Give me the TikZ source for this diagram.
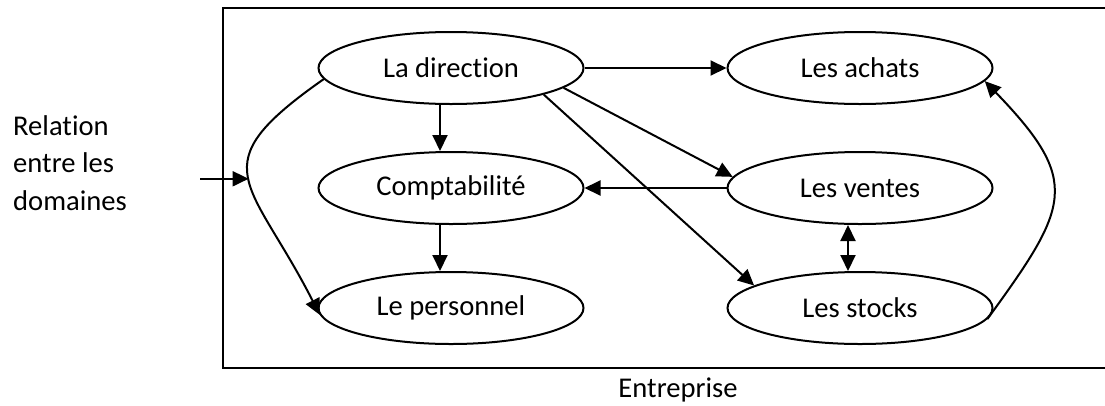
\documentclass[tikz,border=0pt]{standalone}
\usepackage{fontspec}
\setmainfont{Carlito}[Ligatures=NoCommon]
\usetikzlibrary{arrows.meta,shapes.geometric}
\begin{document}
\begin{tikzpicture}[x=1pt,y=-1pt,
  txt/.style={font=\fontsize{28.6}{37.5}\selectfont, inner sep=0pt},
  field/.style={txt, draw, ellipse, line width=2pt, minimum width=265pt, minimum height=72pt},
  tip/.tip={Triangle[length=16pt,width=15pt]},
  link/.style={line width=2pt, -tip},
  both/.style={line width=2pt, tip-tip}]
  \useasboundingbox (0,0) rectangle (1105,405);

  % enterprise frame (runs past the right edge)
  \node (frame) [draw, line width=2pt, minimum width=912pt, minimum height=360pt, inner sep=0pt] at (679,188) {};
  \node (ent) [txt, anchor=base] at (678,397) {Entreprise};

  % domains
  \node (dir)    [field] at (451,68)  {La direction};
  \node (compta) [field] at (451,188) {Comptabilité};
  \node (pers)   [field] at (451,308) {Le personnel};
  \node (achats) [field] at (860,68)  {Les achats};
  \node (ventes) [field] at (860,188) {Les ventes};
  \node (stocks) [field] at (860,308) {Les stocks};

  % outside label
  \node (rel) [txt, anchor=base west, align=left] at (13,210) {Relation\\entre les\\domaines};

  % links between domains
  \draw[link] (dir.east) -- (achats.west);
  \draw[link] ([xshift=-11pt]dir.south) -- ([xshift=-11pt]compta.north);
  \draw[link] ([xshift=-11pt]compta.south) -- ([xshift=-11pt]pers.north);
  \draw[link] (ventes.west) -- (compta.east);
  \draw[link] (dir.-10) -- (ventes.175);
  \draw[link] (dir.-16) -- (stocks.168);
  \draw[both] ([xshift=-12pt]ventes.south) -- ([xshift=-12pt]stocks.north);
  \draw[link] (stocks.-5) to[out=54, in=-46, looseness=1.5] (achats.-6);
  \draw[link] (dir.185) to[out=215, in=117, looseness=1.66] coordinate[pos=0.5] (mid) (pers.183);

  % incoming relation
  \coordinate (inp) at (200,0);
  \draw[link] (inp |- mid) -- (mid);
\end{tikzpicture}
\end{document}
